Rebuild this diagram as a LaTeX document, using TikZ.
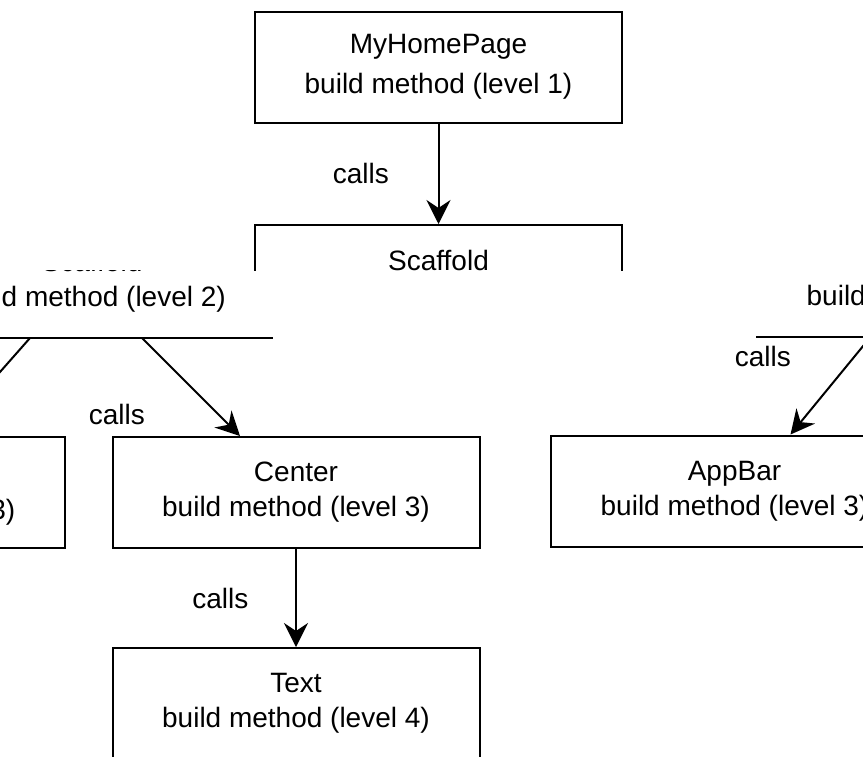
\documentclass[tikz,border=0pt]{standalone}
\usepackage{fontspec}
\setmainfont{Liberation Sans}
\usetikzlibrary{arrows.meta}

\begin{document}
\begin{tikzpicture}[x=0.5pt,y=-0.5pt,
		widget/.style={draw,line width=1pt,minimum width=183.5pt,minimum height=55.5pt,inner sep=0pt,align=center,font=\fontsize{14}{17.5}\selectfont},
		call/.style={-{Stealth[length=12pt,width=12pt,inset=4pt]},line width=1pt},
		callnote/.style={font=\fontsize{14}{17}\selectfont}]
	\useasboundingbox (0,0) rectangle (863,756);
	\clip (0,0) rectangle (863,756);
	% upper band
	\begin{scope}
		\clip (0,0) rectangle (863,270);
		\node[widget,font=\fontsize{14}{20}\selectfont] (home) at (438.5,67) {MyHomePage\\build method (level 1)};
		\node[widget,anchor=north] (scaffold) at (438.5,224) {Scaffold\\build method (level 2)};
		\draw[call] (home) -- (scaffold) node[midway,left=21pt,callnote] {calls};
	\end{scope}
	% lower band
	\begin{scope}
		\clip (0,270) rectangle (863,756);
		\node[widget,draw=none] (scaffoldL) at (92,281.5) {Scaffold\\build method (level 2)};
		\node[widget,draw=none] (scaffoldR) at (940.5,280.5) {Scaffold\\build method (level 2)};
		\draw[line width=1pt] (scaffoldL.south west) -- ([xshift=-2pt]scaffoldL.south east);
		\draw[line width=1pt] (scaffoldR.south west) -- (scaffoldR.south east);
		\node[widget] (side) at (-118.5,492.5) {\strut\\build method (level 3)};
		\node[widget] (center) at (296,492.5) {Center\\build method (level 3)};
		\node[widget] (appbar) at (734.5,491) {AppBar\\build method (level 3)};
		\node[widget] (text) at (296,703.5) {Text\\build method (level 4)};
		\draw[call] ([xshift=-31pt]scaffoldL.south) -- ([xshift=31pt]side.north);
		\draw[call] ([xshift=25pt]scaffoldL.south) -- ([xshift=-28pt]center.north) node[pos=0.78,left=33pt,callnote] {calls};
		\draw[call] ([xshift=-35pt]scaffoldR.south) -- ([xshift=28pt]appbar.north) node[pos=0.2,left=28pt,callnote] {calls};
		\draw[call] (center) -- (text) node[midway,left=20pt,callnote] {calls};
	\end{scope}
\end{tikzpicture}
\end{document}
